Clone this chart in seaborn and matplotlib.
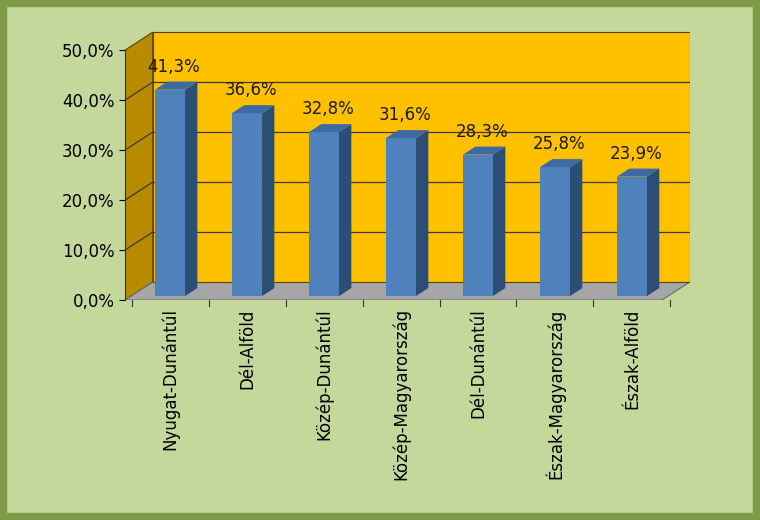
import numpy as np
import pandas as pd
import matplotlib
matplotlib.use("Agg")
import matplotlib.pyplot as plt
import seaborn as sns
from matplotlib.patches import Polygon, Rectangle

regiok = ["Nyugat-Dunántúl", "Dél-Alföld", "Közép-Dunántúl", "Közép-Magyarország",
          "Dél-Dunántúl", "Észak-Magyarország", "Észak-Alföld"]
ertekek = [0.413, 0.366, 0.328, 0.316, 0.283, 0.258, 0.239]
yticks = [0.0, 0.1, 0.2, 0.3, 0.4, 0.5]

df = pd.DataFrame({"regio": regiok, "arany": ertekek})

fig = plt.figure(figsize=(7.6, 5.2), dpi=100, facecolor="#c4d89c")
fig.patches.append(Rectangle((0.004, 0.006), 0.992, 0.988, transform=fig.transFigure,
                             fill=False, edgecolor="#7f9a48", linewidth=6))
ax = fig.add_axes([0.1645, 0.423, 0.743, 0.519])
ax.set_facecolor("none")

x0, x1 = -0.585, 6.75
wdx, wdy = 0.36, 0.036
# oldalfal, padlo, hatso fal
ax.add_patch(Polygon([(x0, 0), (x0, 0.5), (x0 + wdx, 0.5 + wdy), (x0 + wdx, wdy)],
                     closed=True, facecolor="#b88a00", edgecolor="#5a4500", lw=0.8, zorder=0))
ax.add_patch(Polygon([(x0, 0), (x1 - wdx, 0), (x1, wdy), (x0 + wdx, wdy)],
                     closed=True, facecolor="#a6a6a6", edgecolor="#6a6a6a", lw=0.8, zorder=0))
ax.add_patch(Rectangle((x0 + wdx, wdy), x1 - x0 - wdx, 0.5, facecolor="#ffc000",
                       edgecolor="#5a4500", lw=0.8, zorder=0))
for t in yticks[1:-1]:
    ax.plot([x0, x0 + wdx], [t, t + wdy], color="#3a3a3a", lw=0.9, zorder=1)
    ax.plot([x0 + wdx, x1], [t + wdy, t + wdy], color="#3a3a3a", lw=0.9, zorder=1)

sns.barplot(data=df, x="regio", y="arany", color="#4f81bd", width=0.39,
            saturation=1, ax=ax, zorder=3)

d, dy, lift = 0.16, 0.016, 0.008
for p, v in zip(ax.patches[3:], ertekek):
    p.set_y(lift)
    p.set_edgecolor("none")
    bx0, bx1 = p.get_x(), p.get_x() + p.get_width()
    top = lift + v
    ax.add_patch(Polygon([(bx1, lift), (bx1 + d, lift + dy), (bx1 + d, top + dy), (bx1, top)],
                         closed=True, facecolor="#2c4d75", zorder=3))
    ax.add_patch(Polygon([(bx0, top), (bx0 + d, top + dy), (bx1 + d, top + dy), (bx1, top)],
                         closed=True, facecolor="#3d6aa2", zorder=3))
    ax.text((bx0 + bx1) / 2 + 0.05, top + dy + 0.012, f"{v*100:.1f}%".replace(".", ","),
            ha="center", va="bottom", fontsize=12, color="#1a1a1a", zorder=4)

ax.set_xlim(x0, x1)
ax.set_ylim(0, 0.54)
ax.set_yticks(yticks)
ax.set_yticklabels([f"{t*100:.1f}%".replace(".", ",") for t in yticks], fontsize=12)
ax.set_xticks(range(len(regiok)))
ax.set_xticklabels(regiok, rotation=90, fontsize=12)
ax.tick_params(axis="x", length=0, pad=6)
ax.tick_params(axis="y", length=4, direction="out")
ax.set_xlabel("")
ax.set_ylabel("")
for s in ["top", "right", "bottom"]:
    ax.spines[s].set_visible(False)
ax.spines["left"].set_bounds(0, 0.5)
ax.spines["left"].set_color("#333333")
for i in range(len(regiok) + 1):
    ax.plot([i - 0.5, i - 0.5], [0, -0.012], color="#333333", lw=0.8, clip_on=False)

fig.savefig("out.png", dpi=100, facecolor=fig.get_facecolor())
